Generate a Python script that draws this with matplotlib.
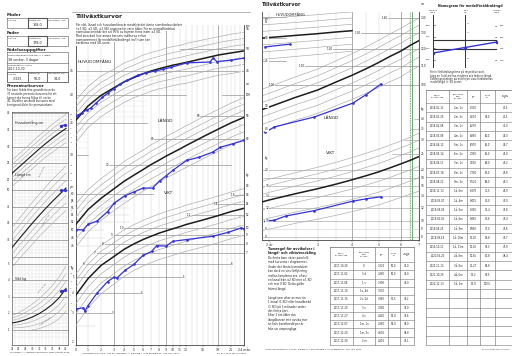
import numpy as np
import matplotlib
matplotlib.use("Agg")
import matplotlib.pyplot as plt
from matplotlib.transforms import blended_transform_factory as blend

plt.rcParams['font.family'] = ['DejaVu Sans']

# ======================= DATA =======================
# parents / birth
MOTHER_LEN = 168.0
FATHER_LEN = 178.0
BIRTH_WT, BIRTH_LEN, BIRTH_HEAD = "3,325", "50,0", "34,0"

# main chart 0-24 months (reference curves)
MONTH_TICKS = [0, 1, 2, 3, 4, 5, 6, 7, 8, 9, 10, 11, 12, 15, 18, 21, 24]
REF_AGE_M = [0, 1, 2, 3, 4, 5, 6, 7, 8, 9, 10, 11, 12, 15, 18, 21, 24]
HEAD_MED = [35.5, 38.0, 40.0, 41.5, 42.7, 43.6, 44.4, 45.0, 45.5, 45.9, 46.3, 46.6, 46.9, 47.8, 48.6, 49.1, 49.6]
HEAD_SD = [1.2, 1.25, 1.3, 1.3, 1.35, 1.35, 1.4, 1.4, 1.4, 1.45, 1.45, 1.45, 1.5, 1.5, 1.5, 1.55, 1.55]
LEN_MED = [51.5, 55.5, 58.8, 61.8, 64.2, 66.3, 68.2, 70.0, 71.6, 73.1, 74.5, 75.9, 77.2, 80.8, 84.0, 86.8, 89.3]
LEN_SD = [1.9, 2.0, 2.1, 2.2, 2.3, 2.35, 2.4, 2.5, 2.55, 2.6, 2.65, 2.7, 2.75, 2.9, 3.0, 3.1, 3.2]
WT_MED = [3.9, 4.9, 5.9, 6.7, 7.4, 8.0, 8.5, 8.9, 9.3, 9.6, 9.9, 10.2, 10.5, 11.2, 11.9, 12.6, 13.2]
WT_SD = [0.45, 0.55, 0.65, 0.72, 0.78, 0.83, 0.88, 0.92, 0.96, 1.0, 1.03, 1.06, 1.1, 1.18, 1.26, 1.33, 1.4]

# child measurements 0-24 months
CH_HEAD_AGE = [0, 0.2, 0.5, 0.9, 1.2, 1.6, 2.1, 2.5, 3.0, 3.6, 4.3, 5.4, 6.4, 7.5, 8.6, 9.7, 12.1, 16.4, 17.0, 17.8, 21.0, 24.0]
CH_HEAD_VAL = [36.2, 36.4, 36.8, 37.3, 37.6, 38.5, 39.6, 40.4, 41.3, 42.2, 43.0, 44.1, 44.6, 45.0, 45.4, 45.8, 46.8, 47.0, 47.9, 47.1, 47.4, 47.9]
CH_LEN_AGE = [0, 0.6, 1.0, 1.7, 2.5, 3.0, 4.1, 5.0, 6.0, 7.2, 8.1, 9.0, 10.0, 12.1, 14.3, 16.9, 18.5, 21.5, 24.0]
CH_LEN_VAL = [50.0, 50.0, 51.4, 52.3, 54.9, 57.3, 59.6, 60.8, 62.0, 62.0, 64.4, 66.0, 68.0, 71.5, 72.7, 74.6, 76.5, 78.0, 79.3]
CH_WT_AGE = [0, 0.6, 0.75, 1.0, 1.7, 2.5, 3.0, 3.3, 4.1, 5.0, 6.0, 7.1, 7.7, 9.0, 10.0, 12.1, 16.9, 20.3, 23.3, 24.0]
CH_WT_VAL = [3.2, 3.25, 3.1, 3.35, 4.0, 4.7, 5.0, 4.95, 5.5, 6.0, 6.8, 7.2, 7.8, 7.75, 8.3, 8.5, 8.9, 9.4, 10.0, 9.9]

# right chart 2-7 years
YEAR_TICKS = [2, 3, 4, 5, 6, 7]
REF_AGE_Y = [1.9, 2.0, 2.5, 3.0, 3.5, 4.0, 4.5, 5.0, 5.5, 6.0, 6.5, 7.0]
LEN_MED_Y = [88.5, 89.5, 94.0, 97.5, 101.5, 105.0, 108.5, 112.0, 115.5, 118.5, 122.0, 125.0]
LEN_SD_Y = [3.2, 3.2, 3.4, 3.6, 3.8, 4.0, 4.2, 4.4, 4.6, 4.8, 4.9, 5.0]
WT_MED_Y = [13.0, 13.3, 14.5, 15.5, 16.5, 17.5, 18.5, 19.5, 20.6, 21.7, 22.8, 24.0]
WT_SD_Y = [1.4, 1.45, 1.6, 1.75, 1.9, 2.05, 2.2, 2.35, 2.5, 2.65, 2.8, 3.0]
HEAD_AGE_Y = [1.9, 2.0, 2.5, 3.0, 3.5, 4.0]
HEAD_MED_Y = [50.0, 50.1, 50.6, 51.0, 51.4, 51.7]
HEAD_SD_Y = [1.55, 1.55, 1.55, 1.55, 1.55, 1.55]
CH_LEN_AGE_Y = [1.94, 2.09, 2.91, 4.03, 4.48, 5.10]
CH_LEN_VAL_Y = [78.8, 81.0, 85.1, 91.3, 95.1, 100.5]
CH_WT_AGE_Y = [1.94, 2.09, 2.30, 2.91, 4.03, 4.48, 5.10]
CH_WT_VAL_Y = [10.0, 10.1, 10.7, 11.5, 13.1, 13.5, 13.9]
CH_HEAD_AGE_Y = [1.94, 2.38]
CH_HEAD_VAL_Y = [48.0, 48.6]

# premature chart (gestational weeks)
GA_TICKS = [24, 26, 28, 30, 32, 34, 36, 38, 40]
GA = [24, 26, 28, 30, 32, 34, 36, 38, 40]
P_HEAD_MED = [22.0, 23.8, 25.6, 27.4, 29.2, 30.9, 32.5, 34.0, 35.4]
P_HEAD_SD = [1.3, 1.3, 1.3, 1.35, 1.35, 1.35, 1.4, 1.4, 1.4]
P_LEN_MED = [32.7, 35.2, 37.6, 40.0, 42.3, 44.5, 46.6, 48.6, 50.6]
P_LEN_SD = [2.0, 2.0, 2.05, 2.1, 2.1, 2.15, 2.2, 2.2, 2.25]
P_WT_MED = [1.42, 1.5, 1.62, 1.78, 1.98, 2.24, 2.55, 2.95, 3.5]
P_WT_SD = [0.15, 0.18, 0.22, 0.26, 0.3, 0.34, 0.38, 0.42, 0.45]
P_CH_GA = [38.4, 39.6]
P_CH_HEAD = [36.2, 36.4]
P_CH_LEN = [50.0, 50.0]
P_CH_WT = [3.325, 3.4]

# tables
T1_DATE = ["2017-10-30", "2017-11-02", "2017-11-06", "2017-11-10", "2017-11-15",
           "2017-11-20", "2017-11-27", "2017-12-07", "2017-12-20", "2017-12-30"]
T1_AGE = ["0", "3 d", "1 v", "1v, 4d", "2v, 2d", "3 v", "4 v", "1m, 1v", "1m, 3v", "2 m"]
T1_WT = ["3,325", "3,260", "3,390", "3,500", "3,860", "3,880", "4,040", "4,260", "4,610", "4,810"]
T1_LEN = ["50,0", "50,0", "", "", "51,5", "", "52,0", "53,0", "", ""]
T1_HEAD = ["34,0", "34,0", "35,0", "", "36,2", "37,0", "37,6", "38,0", "38,8", "39,1"]

T2_DATE = ["2018-01-11", "2018-01-25", "2018-02-08", "2018-03-08", "2018-04-12", "2018-05-14",
           "2018-06-11", "2018-07-18", "2018-08-21", "2018-11-13", "2019-03-07", "2019-04-09",
           "2019-05-02", "2019-08-25", "2019-09-19", "2019-10-11", "2020-05-20", "2020-11-13",
           "2021-10-29", "2022-12-13"]
T2_AGE = ["2m, 1v", "2m, 3v", "3m, 1v", "4m, 1v", "5m, 1v", "6m, 2v", "7m, 1v", "8m, 2v", "9m, 3v",
          "1å, 0m", "1å, 4m", "1å, 5m", "1å, 6m", "1å, 9m", "1å, 10m", "1å, 11m", "2å, 6m",
          "3å, 0m", "4å, 0m", "5å, 1m"]
T2_WT = ["5,000", "5,670", "6,270", "6,880", "6,970", "7,260", "7,600", "7,780", "8,525", "8,870",
         "9,415", "9,390", "9,480", "9,930", "10,00", "10,10", "10,85", "11,27", "13,2", "13,9"]
T2_LEN = ["", "59,0", "", "60,0", "62,0", "62,0", "64,0", "67,0", "68,0", "71,5",
          "73,0", "75,4", "75,6", "77,0", "78,8", "79,3", "81,8", "84,8", "91,5", "100,5"]
T2_HEAD = ["40,5", "40,5", "41,0", "42,0", "42,7", "43,0", "43,2", "43,8", "45,3", "45,9",
           "47,0", "47,8", "47,4", "47,6", "47,7", "47,9", "48,4", "", "", ""]

# ======================= FIGURE =======================
W, H = 512, 356
fig = plt.figure(figsize=(W / 100, H / 100), dpi=100)
fig.patch.set_facecolor('white')

def R(x0, y0, x1, y1):
    return [x0 / W, 1 - y1 / H, (x1 - x0) / W, (y1 - y0) / H]

page = fig.add_axes([0, 0, 1, 1], zorder=0)
page.set_xlim(0, W); page.set_ylim(H, 0); page.axis('off')
top = fig.add_axes([0, 0, 1, 1], zorder=30)
top.set_xlim(0, W); top.set_ylim(H, 0); top.axis('off'); top.patch.set_alpha(0)

BLUE = '#3434d8'
GRAYC = '#a8a8a8'
LIGHT = '#dcdcdc'
DARK = '#7a7a7a'
TXT = '#222222'

def T(x, y, s, fs=2.4, ax=None, ha='left', va='center', **kw):
    (ax or page).text(x, y, s, fontsize=fs, ha=ha, va=va, color=kw.pop('color', TXT), **kw)

def box(x0, y0, x1, y1, lw=0.4, color='#555555', ax=None):
    (ax or page).plot([x0, x1, x1, x0, x0], [y0, y0, y1, y1, y0], color=color, lw=lw,
                      solid_joinstyle='miter')

def hline(x0, x1, y, lw=0.4, color='#555555', ax=None):
    (ax or page).plot([x0, x1], [y, y], color=color, lw=lw)

def vline(x, y0, y1, lw=0.4, color='#555555', ax=None):
    (ax or page).plot([x, x], [y0, y1], color=color, lw=lw)

def overlay(rect, xs, xlim, ylim, yscale='log', z=3):
    ax = fig.add_axes(rect, zorder=z)
    if xs is None:
        pass
    elif isinstance(xs, tuple):
        ax.set_xscale('function', functions=xs)
    else:
        ax.set_xscale(xs)
    ax.set_xlim(*xlim)
    ax.set_yscale(yscale)
    ax.set_ylim(*ylim)
    ax.patch.set_alpha(0)
    ax.axis('off')
    return ax

def ref_curves(ax, age, med, sd, ks=(-3, -2, -1, 1, 2, 3), lw=0.45, mlw=1.1, labels=None):
    med = np.asarray(med, float); sd = np.asarray(sd, float)
    for k in ks:
        ax.plot(age, med + k * sd, color=GRAYC, lw=lw, solid_capstyle='butt')
    ax.plot(age, med, color='#1c1c1c', lw=mlw)
    if labels is not None:
        xa = labels
        for k in ks:
            ax.text(xa, med[-1] + k * sd[-1], ('+%d' % k) if k > 0 else ('%d' % k).replace('-', '−'),
                    fontsize=1.6, color='#888888', ha='center', va='center',
                    bbox=dict(fc='white', ec='none', pad=0.1))

def child(ax, age, val, lw=0.9, ms=0.9):
    ax.plot(age, val, color=BLUE, lw=lw, marker='o', ms=ms, mec=BLUE, mfc=BLUE)

# ---------------- left info panel ----------------
T(7, 15, 'Moder', fs=3, weight='bold')
for a, b, lw in [(7, 28, 0.4), (28, 47, 0.8), (47, 68, 0.4)]:
    box(a, 18, b, 28, lw=lw)
T(8, 20.5, 'Vikt kg', fs=1.7); T(29, 20.5, 'Längd cm', fs=1.7); T(48, 20.5, 'Huvudomf. cm', fs=1.7)
T(37.5, 25, ('%.1f' % MOTHER_LEN).replace('.', ','), fs=2.4, ha='center')
T(7, 33, 'Fader', fs=3, weight='bold')
for a, b, lw in [(7, 28, 0.4), (28, 47, 0.8), (47, 68, 0.4)]:
    box(a, 36, b, 46, lw=lw)
T(8, 38.5, 'Vikt kg', fs=1.7); T(29, 38.5, 'Längd cm', fs=1.7); T(48, 38.5, 'Huvudomf. cm', fs=1.7)
T(37.5, 43, ('%.1f' % FATHER_LEN).replace('.', ','), fs=2.4, ha='center')
T(7, 49.5, 'Födelseuppgifter', fs=3, weight='bold')
box(7, 52, 68, 82)
hline(7, 68, 63); hline(7, 68, 71.5)
T(8, 55, 'Graviditetslängd vid födsel, v + dagar', fs=1.6)
T(8, 59.5, '38 veckor, 3 dagar', fs=2.3)
T(8, 65, 'Födelsedatum, vecka', fs=1.6)
T(8, 69, '2017-10-30', fs=2.2)
for a, b in [(7, 28), (28, 47), (47, 68)]:
    box(a, 71.5, b, 82)
T(8, 74, 'Vikt kg', fs=1.6); T(29, 74, 'Längd cm', fs=1.6); T(48, 74, 'Huvudomf. cm', fs=1.6)
T(17.5, 79, BIRTH_WT, fs=2.3, ha='center'); T(37.5, 79, BIRTH_LEN, fs=2.3, ha='center')
T(57.5, 79, BIRTH_HEAD, fs=2.3, ha='center')
T(7, 86, 'Prematurkurvor', fs=3, weight='bold')
for i, s in enumerate(['För barn födda före graviditetsvecka',
                       '37 används prematurkurvorna för att',
                       'barnet ska kunna följas till vecka',
                       '40. Därefter används kurvorna med',
                       'korrigerad ålder för prematurbarn.']):
    T(7, 90.5 + i * 3.6, s, fs=1.9)

hline(72, 250, 12, lw=0.5, color='#999999')

# ---------------- premature chart ----------------
pr = R(12, 112, 68, 345)
pbase = fig.add_axes(pr, zorder=2)
pbase.set_xlim(24, 40.6); pbase.set_ylim(0, 1); pbase.patch.set_alpha(0)
pbase.set_yticks([])
pbase.set_xticks(GA_TICKS)
pbase.set_xticklabels([str(g) for g in GA_TICKS])
pbase.tick_params(axis='x', labelsize=1.9, length=1, pad=0.6, width=0.3, colors='#333333')
for s in pbase.spines.values():
    s.set_linewidth(0.5); s.set_color('#555555')
for g in np.arange(24, 41, 1):
    pbase.axvline(g, color=LIGHT, lw=0.3, zorder=0)

ph = overlay(pr, None, (24, 40.6), (40 - 232 / 3.35, 40 + 1 / 3.35), 'linear')
pl = overlay(pr, None, (24, 40.6), (50 - 155 / 3.33, 50 + 78 / 3.33), 'linear')
pw = overlay(pr, None, (24, 40.6), (1 - 15 / 16.6, 1 + 218 / 16.6), 'linear')
for v in range(20, 41):
    ph.axhline(v, color=LIGHT if v % 5 else DARK, lw=0.3 if v % 5 else 0.45, zorder=0)
for v in range(30, 51):
    pl.axhline(v, color=LIGHT if v % 5 else DARK, lw=0.3 if v % 5 else 0.45, zorder=0)
for v in np.arange(0.6, 5.01, 0.2):
    iv = abs(v - round(v)) < 1e-6
    pw.axhline(v, color=DARK if iv else LIGHT, lw=0.45 if iv else 0.3, zorder=0)
ref_curves(ph, GA, P_HEAD_MED, P_HEAD_SD, lw=0.4, mlw=0.8)
ref_curves(pl, GA, P_LEN_MED, P_LEN_SD, lw=0.4, mlw=0.8)
ref_curves(pw, GA, P_WT_MED, P_WT_SD, lw=0.4, mlw=0.8)
child(ph, P_CH_GA, P_CH_HEAD, ms=1.3)
child(pl, P_CH_GA, P_CH_LEN, ms=1.3)
child(pw, P_CH_GA, P_CH_WT, ms=1.3)
for ax, vals in [(ph, [20, 25, 30, 35, 40]), (pl, [35, 40, 45, 50]), (pw, [1, 2, 3, 4, 5])]:
    tr = blend(ax.transAxes, ax.transData)
    for v in vals:
        ax.text(-0.04, v, str(v), transform=tr, fontsize=1.9, ha='right', va='center', color=TXT)
for ax, med, sd in [(ph, P_HEAD_MED, P_HEAD_SD), (pl, P_LEN_MED, P_LEN_SD), (pw, P_WT_MED, P_WT_SD)]:
    tr = blend(ax.transAxes, ax.transData)
    for k in (3, 2, 1, 0, -1, -2, -3):
        ax.text(1.03, med[-1] + k * sd[-1], ('+%d' % k) if k > 0 else str(k), transform=tr,
                fontsize=1.5, ha='left', va='center', color='#555555')
ph.text(25, 37.2, 'Huvudomfång cm', fontsize=2.3, color=TXT, va='center')
pl.text(25, 54.5, 'Längd cm', fontsize=2.3, color=TXT, va='center')
pw.text(25, 4.05, 'Vikt kg', fontsize=2.3, color=TXT, va='center')
pl.text(33, 55.5, 'över +2 SD', fontsize=1.5, rotation=62, color='#555555', ha='center', va='center')
pl.text(34, 41.0, 'under −2 SD', fontsize=1.5, rotation=58, color='#555555', ha='center', va='center')
pw.text(33, 3.5, 'över +2 SD', fontsize=1.5, rotation=50, color='#555555', ha='center', va='center')
pw.text(34, 1.5, 'under −2 SD', fontsize=1.5, rotation=35, color='#555555', ha='center', va='center')
T(40, 352.5, 'Niklasson A, Albertsson-Wikland K. BMC Pediatr 2008', fs=1.6, ha='center')

# ---------------- main chart 0-24 months ----------------
MK = np.array([0, 1, 2, 3, 4, 5, 6, 7, 8, 9, 10, 11, 12, 15, 18, 21, 24], float)
PK = np.array([0, 12, 25, 38, 48, 58, 67, 75, 83, 90, 97, 104, 110, 127, 142, 155, 168], float)
fwd = lambda m: np.interp(m, MK, PK)
inv = lambda p: np.interp(p, PK, MK)
mr = R(76, 25, 244, 345)
base = fig.add_axes(mr, zorder=2)
base.set_xscale('function', functions=(fwd, inv))
base.set_xlim(0, 24); base.set_ylim(0, 1); base.patch.set_alpha(0)
base.set_yticks([])
base.set_xticks(MONTH_TICKS)
base.set_xticklabels([str(m) for m in MONTH_TICKS[:-1]] + ['24 mån'])
base.tick_params(axis='x', labelsize=2.3, length=1.2, pad=0.8, width=0.3, colors='#333333')
base.spines['top'].set_visible(False)
for s in ['left', 'right', 'bottom']:
    base.spines[s].set_linewidth(0.6); base.spines[s].set_color('#444444')
for m in range(0, 25):
    dark = m in (3, 9, 18)
    base.axvline(m, color='#8c8c8c' if dark else '#d2d2d2', lw=0.5 if dark else 0.35, zorder=0)

mh = overlay(mr, (fwd, inv), (0, 24), (11.98, 56.2), 'log')
ml = overlay(mr, (fwd, inv), (0, 24), (27.6, 143.8), 'log')
mw = overlay(mr, (fwd, inv), (0, 24), (1.925, 174.5), 'log')

# grid lines (value, start month, end month)
for v, a, b in [(50, 11, 24), (45, 0, 24), (40, 0, 12), (35, 0, 6.5), (30, 0, 1)]:
    mh.plot([a, b], [v, v], color='#8a8a8a', lw=0.45, zorder=0)
for v in range(31, 53):
    if v % 5:
        a, b = (0, 1) if v < 35 else ((0, 6.5) if v < 40 else ((0, 12) if v < 45 else (11, 24)))
        mh.plot([a, b], [v, v], color='#e2e2e2', lw=0.3, zorder=0)
for v, a, b in [(60, 0, 7.2), (70, 2.6, 21), (80, 7.4, 24), (90, 14.5, 24), (100, 19, 24)]:
    ml.plot([a, b], [v, v], color='#8a8a8a', lw=0.45, zorder=0)
for v in [46, 48, 50, 52, 54, 56, 58]:
    ml.plot([0, 2.2 if v <= 50 else 4.5], [v, v], color='#d0d0d0', lw=0.35, zorder=0)
for v, a, b in [(3, 0, 2.8), (4, 0, 5.7), (5, 0, 11.3), (6, 0.8, 20.8), (7, 1.7, 24), (8, 2.3, 24),
                (9, 3.0, 24), (10, 4.0, 24), (12, 13, 24), (14, 18, 24), (16, 22, 24)]:
    mw.plot([a, b], [v, v], color='#8a8a8a', lw=0.45, zorder=0)
mw.plot([0, 1.5], [2.5, 2.5], color='#d0d0d0', lw=0.35, zorder=0)

ref_curves(mh, REF_AGE_M, HEAD_MED, HEAD_SD, labels=23.2)
ref_curves(ml, REF_AGE_M, LEN_MED, LEN_SD, labels=23.2)
ref_curves(mw, REF_AGE_M, WT_MED, WT_SD, labels=23.2)
child(mh, CH_HEAD_AGE, CH_HEAD_VAL)
child(ml, CH_LEN_AGE, CH_LEN_VAL)
child(mw, CH_WT_AGE, CH_WT_VAL)

def side_labels(ax, left, right, fs=2.2, dx=0.012):
    tr = blend(ax.transAxes, ax.transData)
    for v, s in left:
        ax.text(-dx, v, s, transform=tr, fontsize=fs, ha='right', va='center', color=TXT)
    for v, s in right:
        ax.text(1 + dx, v, s, transform=tr, fontsize=fs, ha='left', va='center', color=TXT)

side_labels(mh, [(45, '45'), (40, '40'), (35, '35'), (30, '30')],
            [(56.0, 'cm'), (55, '55'), (50, '50'), (45, '45')])
side_labels(ml, [(62.5, 'cm')] + [(v, str(v)) for v in [46, 48, 50, 52, 54, 56, 58, 60]],
            [(106, 'cm'), (100, '100'), (90, '90'), (80, '80')], fs=2.0)
side_labels(mw, [(5.7, 'kg'), (5, '5'), (4, '4'), (3, '3'), (2, '2')],
            [(21, 'kg'), (18, '18'), (16, '16'), (14, '14'), (12, '12'), (10, '10'), (9, '9'),
             (8, '8'), (7, '7')], fs=2.0)
for v, m in [(70, 2.6), (80, 7.4), (90, 14.5)]:
    ml.text(m, v, str(v), fontsize=2.0, ha='right', va='center', color=TXT)
for v, m in [(3, 2.8), (4, 5.7), (5, 11.3), (6, 20.8)]:
    mw.text(m, v, ' ' + str(v), fontsize=2.0, ha='left', va='center', color=TXT)
for v, m in [(6, 0.8), (7, 1.7), (8, 2.3), (9, 3.0), (10, 4.0), (12, 13), (14, 18), (16, 22)]:
    mw.text(m, v, str(v) + ' ', fontsize=2.0, ha='right', va='center', color=TXT)

T(78, 62, 'HUVUDOMFÅNG', fs=3.1, ax=top)
T(158, 121, 'LÄNGD', fs=3.2, ax=top)
T(164, 193, 'VIKT', fs=3.2, ax=top)

T(76, 16, 'Tillväxtkurvor', fs=4.2, weight='bold', ax=top)
para = ['För vikt, längd och huvudomfång är medelvärdet jämte standardavvikelser',
        '(±1 SD, ±2 SD, ±3 SD) angivna för varje ålder. För en normalfördelad',
        'egenskap innebär det att 95% av barnen finns inom ±2 SD.',
        'Med streckad linje anges barnets målkurva enligt',
        'nomogrammet för medelföräldralängd (mfl) som kan',
        'beräknas med SD-score.']
for i, s in enumerate(para):
    top.text(76, 24.5 + i * 3.8, s, fontsize=2.1, ha='left', va='center', color=TXT,
             bbox=dict(fc='white', ec='none', pad=0.2))

T(130, 353, 'Albertsson-Wikland K, Luo ZC, Niklasson A, Karlberg J. Acta Paediatr 91: 739-754, 2002',
  fs=1.6, ha='center')
T(246, 353, 'PC-PAL 2022 rev 3.0 2011', fs=1.6, ha='right')

# ---------------- right chart 2-7 years ----------------
rr = R(262, 12, 419, 240)
rbase = fig.add_axes(rr, zorder=2)
rbase.set_xscale('log')
rbase.set_xlim(2 * np.exp(-7 / 119.7), 7.0); rbase.set_ylim(0, 1); rbase.patch.set_alpha(0)
rbase.set_yticks([])
rbase.set_xticks(YEAR_TICKS)
rbase.set_xticks([], minor=True)
rbase.set_xticklabels(['2 år'] + [str(y) for y in YEAR_TICKS[1:]])
rbase.tick_params(axis='x', labelsize=2.4, length=1.2, pad=0.8, width=0.3, colors='#333333')
rbase.spines['top'].set_visible(False)
for s in ['left', 'right', 'bottom']:
    rbase.spines[s].set_linewidth(0.6); rbase.spines[s].set_color('#444444')
for y in np.arange(2.0, 7.01, 0.5):
    dark = y in (4.0, 6.0)
    rbase.axvline(y, color='#8c8c8c' if dark else '#d2d2d2', lw=0.5 if dark else 0.35, zorder=0)
rbase.axvline(6.62, color='#3cb043', lw=0.6, zorder=1)
rbase.axvline(6.5, color='#3cb043', lw=0.5, ls=(0, (2, 1.5)), zorder=1)

xl = (2 * np.exp(-7 / 119.7), 7.0)
rh = overlay(rr, 'log', xl, (50 * np.exp(-202 / 218), 50 * np.exp(26 / 218)), 'log')
rl = overlay(rr, 'log', xl, (100 * np.exp(-155 / 199), 100 * np.exp(73 / 199)), 'log')
rw = overlay(rr, 'log', xl, (10 * np.exp(-19 / 73.6), 10 * np.exp(209 / 73.6)), 'log')
for v, a in [(100, 2.1), (110, 2.7), (120, 3.4), (130, 4.3), (140, 5.4)]:
    rl.plot([a, 7.0], [v, v], color='#8a8a8a', lw=0.45, zorder=0)
    rl.text(a, v, str(v) + ' ', fontsize=2.0, ha='right', va='center', color=TXT)
for v in (45, 50, 55):
    rh.plot([xl[0], 2.3], [v, v], color='#8a8a8a', lw=0.45, zorder=0)
for v in (8, 9, 10, 12, 14, 16, 18, 20):
    rw.plot([xl[0], 7.0], [v, v], color='#d0d0d0' if v % 2 else '#9a9a9a', lw=0.4, zorder=0)
for v, a in [(25, 5.6), (30, 6.2), (35, 6.5), (40, 6.7)]:
    rw.plot([a, 7.0], [v, v], color='#9a9a9a', lw=0.4, zorder=0)
ref_curves(rh, HEAD_AGE_Y, HEAD_MED_Y, HEAD_SD_Y)
ref_curves(rl, REF_AGE_Y, LEN_MED_Y, LEN_SD_Y)
ref_curves(rw, REF_AGE_Y, WT_MED_Y, WT_SD_Y)
child(rh, CH_HEAD_AGE_Y, CH_HEAD_VAL_Y)
child(rl, CH_LEN_AGE_Y, CH_LEN_VAL_Y)
child(rw, CH_WT_AGE_Y, CH_WT_VAL_Y)

def inner_left(ax, vals, fs=2.1):
    tr = blend(ax.transAxes, ax.transData)
    for v, s in vals:
        ax.text(0.02, v, s, transform=tr, fontsize=fs, ha='left', va='center', color=TXT,
                bbox=dict(fc='white', ec='none', pad=0.15))

inner_left(rh, [(50, '50'), (45, '45')])
rh.text(0.02, 54.2, 'cm\n55', transform=blend(rh.transAxes, rh.transData), fontsize=1.8,
        ha='left', va='center', color=TXT, linespacing=0.9)
inner_left(rl, [(90, '90'), (80, '80')])
inner_left(rw, [(23.5, 'kg'), (20, '20'), (16, '16'), (14, '14'), (12, '12'), (10, '10'), (9, '9'), (8, '8')])
side_labels(rl, [], [(150, 'cm'), (140, '140'), (130, '130'), (120, '120'), (110, '110'), (100, '100')],
            fs=2.1, dx=0.01)
side_labels(rw, [], [(46, 'kg'), (40, '40'), (35, '35'), (30, '30'), (25, '25'), (20, '20'), (18, '18'),
                     (16, '16'), (14, '14'), (12, '12'), (10, '10'), (9, '9'), (8, '8')], fs=2.1, dx=0.01)

T(262, 5, 'Tillväxtkurvor', fs=3.6, weight='bold')
T(276, 15.5, 'HUVUDOMFÅNG', fs=2.6, ax=top)
T(324, 118, 'LÄNGD', fs=3.2, ax=top)
T(326, 153, 'VIKT', fs=3.2, ax=top)

# ---------------- nomogram ----------------
T(470, 6, 'Nomogram för medelföräldralängd', fs=2.3, ha='center', weight='bold')
T(433, 11.5, 'Moderns\nlängd', fs=1.5, ha='center')
T(466, 11.5, 'M.f.l.\ncm', fs=1.5, ha='center')
T(497, 11.5, 'Faderns\nlängd', fs=1.5, ha='center')
nom = fig.add_axes(R(433, 15, 497, 68), zorder=3)
nom.set_xlim(0, 2); nom.set_ylim(0, 1); nom.axis('off'); nom.patch.set_alpha(0)
M_LIM = (168 - 15 / 2.3, 168 + 38 / 2.3)
F_LIM = (178 - 26 / 2.3, 178 + 27 / 2.3)
mnorm = lambda c: (c - M_LIM[0]) / (M_LIM[1] - M_LIM[0])
fnorm = lambda c: (c - F_LIM[0]) / (F_LIM[1] - F_LIM[0])
for x in (0, 1, 2):
    nom.plot([x, x], [0, 1], color='#333333', lw=0.7)
for yv in ((68 - 40) / 53, (68 - 49) / 53):
    nom.plot([0, 2], [yv, yv], color='#333333', lw=0.8)
for c in (165, 170, 175, 180):
    nom.plot([0, 0.06], [mnorm(c)] * 2, color='#333333', lw=0.4)
    nom.text(-0.08, mnorm(c), str(c), fontsize=1.7, ha='right', va='center', color=TXT)
for c in (170, 175, 180, 185):
    nom.plot([1.94, 2], [fnorm(c)] * 2, color='#333333', lw=0.4)
    nom.text(2.08, fnorm(c), str(c), fontsize=1.7, ha='left', va='center', color=TXT)
for i, s in enumerate(['+2', '+1', '0', '−1', '−2']):
    nom.text(1.06, 0.85 - i * 0.17, s, fontsize=1.5, ha='left', va='center', color='#555555')
ym, yf = mnorm(MOTHER_LEN), fnorm(FATHER_LEN)
nom.plot([0, 1, 2], [ym, (ym + yf) / 2, yf], color=BLUE, lw=1.0, marker='s', ms=1.4)
for i, s in enumerate(['För in föräldralängderna på respektive axel.',
                       'Lägg en linjal mellan moderns och faderns längd.',
                       'Skärningspunkten på mittlinjen visar föräldrarnas',
                       'medellängd (+ SD score).']):
    T(430, 72 + i * 3.5, s, fs=1.8)

# ---------------- tables ----------------
def table(xe, y0, yh, rh, nrows, headers, cols, fs=1.9, hfs=1.5):
    x0, x1 = xe[0], xe[-1]
    yend = yh + rh * nrows
    for x in xe:
        vline(x, y0, yend, lw=0.4, color='#666666')
    hline(x0, x1, y0, lw=0.5, color='#666666')
    for i in range(nrows + 1):
        hline(x0, x1, yh + i * rh, lw=0.4, color='#777777')
    for j, hd in enumerate(headers):
        T((xe[j] + xe[j + 1]) / 2, (y0 + yh) / 2, hd, fs=hfs, ha='center', linespacing=1.0)
    for j, col in enumerate(cols):
        for i, s in enumerate(col):
            if s:
                T((xe[j] + xe[j + 1]) / 2, yh + (i + 0.5) * rh, s, fs=fs, ha='center')

HDR = ['Datum\når, mån, dag', 'Kronologisk\nålder\når, mån', 'Vikt\nkg', 'Längd\ncm', 'Huvud-\nomfång\ncm']
table([330, 353, 375, 388, 400, 414], 247, 262, 8.3, 10, HDR,
      [T1_DATE, T1_AGE, T1_WT, T1_LEN, T1_HEAD], fs=1.8, hfs=1.4)
table([426, 449, 467, 480, 495, 516], 90, 103, 9.3, 26, HDR,
      [T2_DATE, T2_AGE, T2_WT, T2_LEN, T2_HEAD], fs=1.8, hfs=1.4)

# tumregel text
T(268, 249, 'Tumregel för avvikelser i', fs=2.4, weight='bold')
T(268, 253, 'längd- och viktutveckling', fs=2.4, weight='bold')
tum = ['De flesta barn växer parallellt', 'med kurvorna i diagrammet.', 'Under det första levnadsåret',
       'kan dock en viss förflyttning', 'mellan kanalerna ses, oftast', 'en kanal från ±2 SD mot ±1 SD',
       'och mot 0 SD. Detta gäller', 'främst längd.', '',
       'Längd som viker av mer än', '1 kanal (1 SD) eller kanalbredd', '(1 SD) på 3 månader under',
       'det första året.', 'Efter 2 års ålder ska', 'längdkurvan inte avvika mer',
       'än halv kanalbredd per år', 'från sin ursprungliga.']
for i, s in enumerate(tum):
    if s:
        T(268, 258 + i * 4.4, s, fs=2.0)

T(265, 349, 'Albertsson-Wikland K, Luo ZC, Niklasson A and Karlberg J. Acta Paediatr 91: 739-754, 2002', fs=1.5)
T(510, 349, 'PC-PAL 2022 rev 3.0 2011', fs=1.5, ha='right')

fig.savefig('out.png', dpi=100, facecolor='white')
